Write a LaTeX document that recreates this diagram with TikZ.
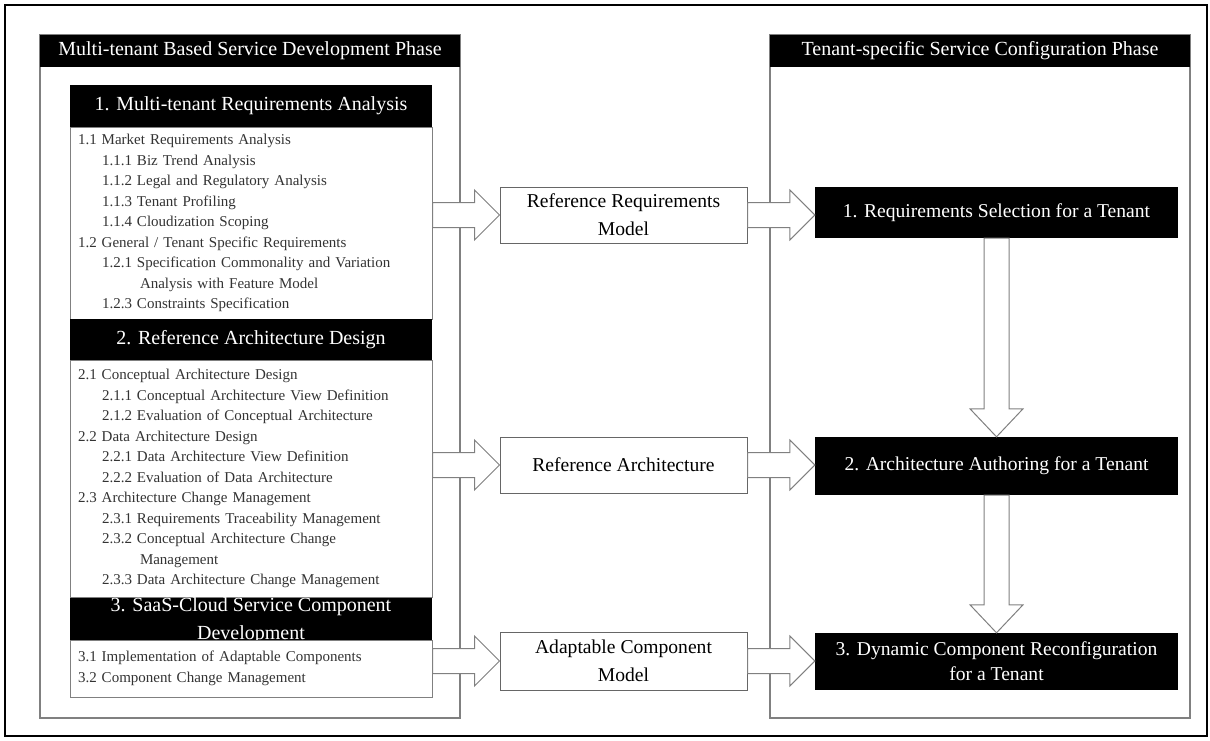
\documentclass[tikz,border=0pt]{standalone}
\usepackage{fontspec}
\setmainfont{Liberation Serif}
\usetikzlibrary{calc}
\definecolor{rulegray}{gray}{0.5}
\definecolor{itemgray}{gray}{0.2}

\begin{document}
\begin{tikzpicture}[x=1pt,y=1pt,
	panel/.style={draw=rulegray, line width=1.2pt, minimum width=420pt, minimum height=683pt},
	phasehead/.style={fill=black, text=white, minimum width=420pt, minimum height=32pt, font=\fontsize{20}{22}\selectfont},
	stephead/.style={fill=black, text=white, minimum width=362pt, minimum height=42pt, align=center, font=\fontsize{20}{28}\selectfont},
	itembox/.style={draw=rulegray, fill=white, line width=1pt, text=itemgray, inner xsep=8pt, text width=346pt, align=left, font=\fontsize{15}{20.5}\selectfont},
	midbox/.style={draw=black!60, fill=white, line width=1pt, minimum width=247pt, minimum height=56pt, align=center, font=\fontsize{19.6}{28}\selectfont},
	taskbox/.style={fill=black, text=white, minimum width=363pt, align=center, font=\fontsize{19.6}{25}\selectfont},
	fatright/.style={draw=rulegray, fill=white, line width=1pt,
		to path={let \p1=(\tikztostart), \p2=(\tikztotarget) in
			(\x1,\y1+12.5pt) -- (\x2-25pt,\y1+12.5pt) -- (\x2-25pt,\y1+25pt) -- (\x2,\y1)
			-- (\x2-25pt,\y1-25pt) -- (\x2-25pt,\y1-12.5pt) -- (\x1,\y1-12.5pt) -- cycle}},
	fatdown/.style={draw=rulegray, fill=white, line width=1pt,
		to path={let \p1=(\tikztostart), \p2=(\tikztotarget) in
			(\x1-12.5pt,\y1) -- (\x1-12.5pt,\y2+28pt) -- (\x1-26.5pt,\y2+28pt) -- (\x1,\y2)
			-- (\x1+26.5pt,\y2+28pt) -- (\x1+12.5pt,\y2+28pt) -- (\x1+12.5pt,\y1) -- cycle}}]
	\tikzstyle{every node}+=[inner sep=0pt]
	\useasboundingbox (0,0) rectangle (1210,-740);
	\draw [black, line width=2pt] (5,-5) rectangle (1207,-736);
	\node [panel] (devpanel) at (250,-376.5) {};
	\node [phasehead] (devhead) at (250,-51) {Multi-tenant Based Service Development Phase};
	\node [panel] (cfgpanel) at (980,-376.5) {};
	\node [phasehead] (cfghead) at (980,-51) {Tenant-specific Service Configuration Phase};
	\node [stephead] (headA) at (251,-106) {1. Multi-tenant Requirements Analysis};
	\node [itembox, minimum height=192pt] (secA) at (251,-223) {1.1 Market Requirements Analysis\\
		\hspace*{24pt}1.1.1 Biz Trend Analysis\\
		\hspace*{24pt}1.1.2 Legal and Regulatory Analysis\\
		\hspace*{24pt}1.1.3 Tenant Profiling\\
		\hspace*{24pt}1.1.4 Cloudization Scoping\\
		1.2 General / Tenant Specific Requirements\\
		\hspace*{24pt}1.2.1 Specification Commonality and Variation\\
		\hspace*{62pt}Analysis with Feature Model\\
		\hspace*{24pt}1.2.3 Constraints Specification};
	\node [stephead, minimum height=41pt] (headB) at (251,-339.5) {2. Reference Architecture Design};
	\node [itembox, minimum height=237pt] (secB) at (251,-478.5) {2.1 Conceptual Architecture Design\\
		\hspace*{24pt}2.1.1 Conceptual Architecture View Definition\\
		\hspace*{24pt}2.1.2 Evaluation of Conceptual Architecture\\
		2.2 Data Architecture Design\\
		\hspace*{24pt}2.2.1 Data Architecture View Definition\\
		\hspace*{24pt}2.2.2 Evaluation of Data Architecture\\
		2.3 Architecture Change Management\\
		\hspace*{24pt}2.3.1 Requirements Traceability Management\\
		\hspace*{24pt}2.3.2 Conceptual Architecture Change\\
		\hspace*{62pt}Management\\
		\hspace*{24pt}2.3.3 Data Architecture Change Management};
	\node [stephead, minimum height=43pt] (headC) at (251,-621) {3. SaaS-Cloud Service Component\\Development};
	\node [itembox, minimum height=57pt] (secC) at (251,-668.5) {3.1 Implementation of Adaptable Components\\
		3.2 Component Change Management};
	\node [midbox] (refreq) at (623.5,-215) {Reference Requirements\\Model};
	\node [midbox] (refarch) at (623.5,-465) {Reference Architecture};
	\node [midbox, minimum height=58pt] (adcomp) at (623.5,-661) {Adaptable Component\\Model};
	\node [taskbox, minimum height=51pt] (reqsel) at (996.5,-212.5) {1. Requirements Selection for a Tenant};
	\node [taskbox, minimum height=58pt] (archauth) at (996.5,-466) {2. Architecture Authoring for a Tenant};
	\node [taskbox, minimum height=57pt] (dynreconf) at (996.5,-661.5) {3. Dynamic Component Reconfiguration\\for a Tenant};
	\draw [fatright] (secA.east |- refreq) to (refreq.west);
	\draw [fatright] (refreq.east) to (reqsel.west |- refreq);
	\draw [fatright] (secB.east |- refarch) to (refarch.west);
	\draw [fatright] (refarch.east) to (archauth.west |- refarch);
	\draw [fatright] (secC.east |- adcomp) to (adcomp.west);
	\draw [fatright] (adcomp.east) to (dynreconf.west |- adcomp);
	\draw [fatdown] (reqsel.south) to (archauth.north);
	\draw [fatdown] (archauth.south) to (dynreconf.north);
\end{tikzpicture}
\end{document}
